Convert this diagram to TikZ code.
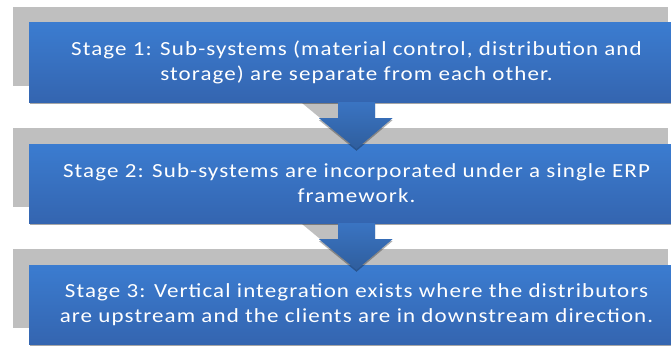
\documentclass[tikz,border=0pt]{standalone}
\usepackage{fontspec}
\setmainfont{Carlito}[FakeStretch=1.15, LetterSpace=5.5]
\usetikzlibrary{calc,shadows}
\definecolor{panelgray}{HTML}{BFBFBF}
\definecolor{stagetop}{HTML}{3B7CD0}
\definecolor{stagebot}{HTML}{3465B0}
\definecolor{arrowtop}{HTML}{3A74C2}
\definecolor{arrowbot}{HTML}{2F5E9E}
\begin{document}
\begin{tikzpicture}[x=1pt,y=-1pt,
  backpanel/.style={fill=panelgray, draw=none, minimum width=655pt, minimum height=79pt, inner sep=0pt},
  stagebox/.style={draw=none, top color=stagetop, bottom color=stagebot,
    minimum width=655pt, minimum height=79pt, inner sep=0pt,
    text=white, align=center, font=\fontsize{20}{25}\selectfont,
    drop shadow={shadow xshift=1pt, shadow yshift=-2pt, opacity=0.35, fill=black}},
  downarrow/.style={top color=arrowtop, bottom color=arrowbot, draw=none,
    drop shadow={shadow xshift=0pt, shadow yshift=-2pt, opacity=0.3, fill=black}},
  grayarrow/.style={fill=panelgray, draw=none}]
\useasboundingbox (0,0) rectangle (671,345);
\clip (0,0) rectangle (671,345);

% grey backing panels
\node[backpanel] (g1) at (340.5,46.5) {};
\node[backpanel] (g2) at (340.5,167.5) {};
\node[backpanel] (g3) at (340.5,288.5) {};

% grey arrows behind the blue ones
\foreach \a/\b in {g1/g2, g2/g3}{
  \fill[grayarrow] ($(\a.south)+(-2,0)$) -- ++(-18.5,0) -- ++(0,16) -- ++(-19,0)
    -- ($(\a.south)+(-2,47)$) -- ($(\a.south)+(34,16)$) -- ++(-19,0) -- ++(0,-16) -- cycle;
}

% blue stage boxes
\node[stagebox] (s1) at (356.5,62.5) {Stage 1: Sub-systems (material control, distribution and\\storage) are separate from each other.};
\node[stagebox] (s2) at (356.5,183.5) {Stage 2: Sub-systems are incorporated under a single ERP\\framework.};
\node[stagebox] (s3) at (356.5,304.5) {Stage 3: Vertical integration exists where the distributors\\are upstream and the clients are in downstream direction.};

% blue arrows between stages
\foreach \a/\b in {s1/s2, s2/s3}{
  \path[downarrow] ($(\a.south)+(-18.5,0)$) -- ++(0,16) -- ++(-19,0)
    -- ($(\b.north)+(0,5)$) -- ($(\a.south)+(36,16)$) -- ++(-17.5,0) -- ++(0,-16) -- cycle;
}
\end{tikzpicture}
\end{document}
